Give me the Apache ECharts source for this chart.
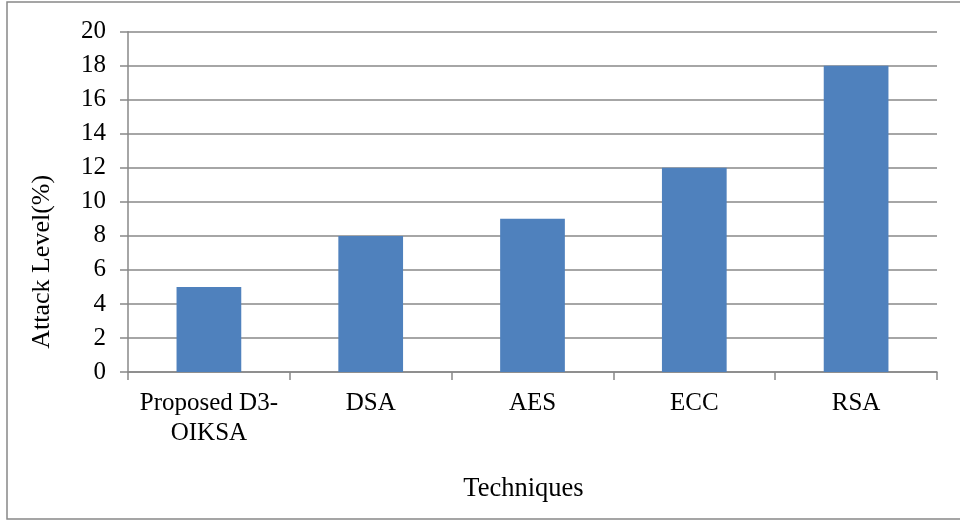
<!DOCTYPE html>
<html>
<head>
<meta charset="utf-8">
<script src="https://cdn.jsdelivr.net/npm/echarts@6/dist/echarts.min.js"></script>
<style>
  html, body { margin: 0; padding: 0; background: #fff; }
  #chart { width: 960px; height: 520px; }
</style>
</head>
<body>
<div id="chart"></div>
<script>
// Attack level per technique
const techniques = ['Proposed D3-\nOIKSA', 'DSA', 'AES', 'ECC', 'RSA'];
const attackLevel = [5, 8, 9, 12, 18];
const yTicks = { min: 0, max: 20, interval: 2 };

const FONT = '"Liberation Serif", "Times New Roman", serif';
const GRAY = '#888888';

const chart = echarts.init(document.getElementById('chart'), null, { renderer: 'canvas' });
chart.setOption({
  animation: false,
  backgroundColor: '#ffffff',
  graphic: [{
    type: 'rect',
    shape: { x: 7, y: 2, width: 980, height: 517 },
    style: { fill: 'none', stroke: GRAY, lineWidth: 1.5 },
    silent: true
  }],
  grid: { left: 128, right: 23, top: 31.7, bottom: 148, containLabel: false },
  xAxis: {
    type: 'category',
    data: techniques,
    name: 'Techniques',
    nameLocation: 'middle',
    nameGap: 104,
    nameTextStyle: { fontFamily: FONT, fontSize: 26.5, color: '#000', padding: [0, 18, 0, 0] },
    axisLine: { show: true, lineStyle: { color: GRAY, width: 1.5 } },
    axisTick: { show: true, alignWithLabel: false, length: 8, lineStyle: { color: GRAY, width: 1.5 } },
    axisLabel: { fontFamily: FONT, fontSize: 25, color: '#000', margin: 16, lineHeight: 30, interval: 0 },
    splitLine: { show: false }
  },
  yAxis: {
    type: 'value',
    min: yTicks.min,
    max: yTicks.max,
    interval: yTicks.interval,
    name: 'Attack Level(%)',
    nameLocation: 'middle',
    nameRotate: 90,
    nameGap: 73,
    nameTextStyle: { fontFamily: FONT, fontSize: 26, color: '#000', padding: [0, 120, 0, 0] },
    axisLine: { show: true, lineStyle: { color: GRAY, width: 1.5 } },
    axisTick: { show: true, length: 8, inside: false, lineStyle: { color: GRAY, width: 1.5 } },
    axisLabel: { fontFamily: FONT, fontSize: 25, color: '#000', margin: 22 },
    splitLine: { show: true, lineStyle: { color: GRAY, width: 1.5 } }
  },
  series: [{
    type: 'bar',
    data: attackLevel,
    barCategoryGap: '60%',
    itemStyle: { color: '#4F81BD' },
    silent: true
  }]
});
</script>
</body>
</html>
